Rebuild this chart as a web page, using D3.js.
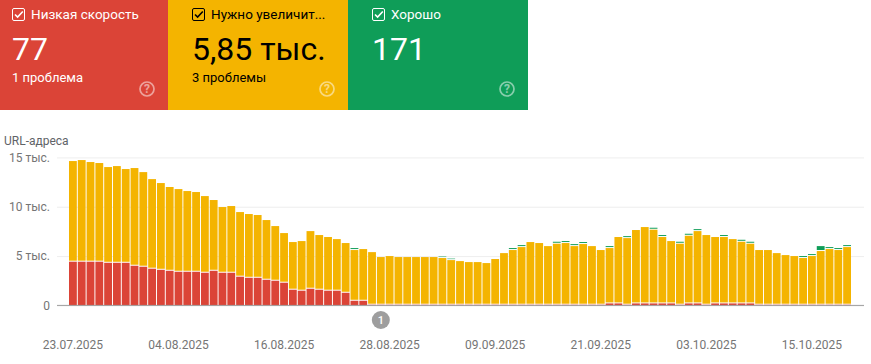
<!DOCTYPE html>
<html>
<head>
<meta charset="utf-8">
<script src="https://cdn.jsdelivr.net/npm/d3@7"></script>
<style>
html, body { margin: 0; padding: 0; background: #fff; }
svg { display: block; font-family: Roboto, sans-serif; }
</style>
</head>
<body>
<script>
let width = 871;
let height = 364;

// cards on top
let cardTitles = ["Низкая скорость", "Нужно увеличит...", "Хорошо"];
let cardValues = ["77", "5,85 тыс.", "171"];
let cardNotes = ["1 проблема", "3 проблемы", ""];
let cardColors = ["#db4437", "#f4b400", "#0f9d58"];
let cardInk = ["#fff", "#000", "#fff"];

// URLs per day, from 23.07.2025
let poor = [4430, 4430, 4430, 4430, 4320, 4320, 4320, 4020, 3920, 3720, 3610, 3510, 3410, 3410, 3410, 3310, 3510, 3310, 3310, 2910, 2800, 2800, 2600, 2500, 2300, 1590, 1490, 1690, 1590, 1490, 1490, 1280, 470, 470, 70, 70, 70, 70, 70, 70, 70, 70, 70, 70, 70, 70, 70, 70, 70, 70, 70, 70, 70, 70, 70, 70, 70, 70, 70, 70, 70, 200, 200, 70, 200, 200, 200, 200, 200, 70, 200, 200, 70, 200, 200, 200, 200, 200, 70, 70, 70, 70, 70, 70, 70, 70, 70, 70, 70];
let needsWork = [10200, 10300, 10100, 10000, 9700, 9800, 9500, 9900, 9590, 9080, 8790, 8490, 8380, 8180, 8080, 7770, 7170, 6660, 6760, 6550, 6460, 6360, 6050, 5540, 5030, 4830, 5030, 5840, 5540, 5440, 5230, 5040, 5140, 5240, 5330, 4830, 4930, 4830, 4830, 4830, 4830, 4830, 4730, 4520, 4420, 4320, 4320, 4220, 4630, 5230, 5540, 5840, 6350, 6250, 5940, 6180, 6250, 5940, 6150, 5940, 5540, 5610, 6730, 6750, 7440, 7740, 7470, 6730, 6320, 6180, 6860, 7330, 7060, 6730, 6730, 6520, 6250, 6050, 5540, 5540, 5230, 5030, 4930, 4730, 4930, 5440, 5640, 5540, 5840];
let good = [0, 0, 0, 0, 0, 0, 0, 0, 0, 0, 0, 0, 0, 0, 0, 0, 0, 0, 0, 0, 0, 0, 0, 0, 0, 0, 0, 0, 0, 0, 0, 0, 200, 0, 0, 0, 0, 0, 0, 0, 0, 0, 150, 150, 0, 0, 0, 0, 0, 0, 200, 200, 0, 0, 0, 200, 200, 200, 200, 0, 0, 200, 0, 200, 0, 0, 200, 200, 0, 200, 200, 200, 0, 0, 200, 0, 200, 200, 0, 0, 0, 0, 0, 200, 200, 500, 200, 200, 200];

let yTicks = [0, 5000, 10000, 15000];
let yTickLabels = ["0", "5 тыс.", "10 тыс.", "15 тыс."];
let annotationDate = "27.08.2025";

let svg = d3.select("body").append("svg").attr("width", width).attr("height", height);

let fmt = d3.timeFormat("%d.%m.%Y");
let start = new Date(2025, 6, 23);
let days = poor.map(function(d, i){ return fmt(d3.timeDay.offset(start, i)); });

let xScale = d3.scaleBand().domain(days).range([69, 851]).paddingInner(0.11).paddingOuter(0);
let yScale = d3.scaleLinear().domain([0, 15000]).range([305.4, 157.4]);

// cards
let cardX = d3.scaleOrdinal().domain([0, 1, 2]).range([0, 168, 348]);
let cardW = d3.scaleOrdinal().domain([0, 1, 2]).range([168, 180, 180]);
let cardPad = d3.scaleOrdinal().domain([0, 1, 2]).range([12, 24, 24]);

let cards = svg.selectAll("g.card").data(cardTitles).enter().append("g")
    .attr("class", "card")
    .attr("transform", function(d, i){ return "translate(" + cardX(i) + ",0)"; });

cards.append("rect").attr("width", function(d, i){ return cardW(i); }).attr("height", 110)
    .attr("fill", function(d, i){ return cardColors[i]; });

cards.append("rect")
    .attr("x", function(d, i){ return cardPad(i) + 0.5; }).attr("y", 8.5)
    .attr("width", 12).attr("height", 12).attr("rx", 1.5)
    .attr("fill", "none").attr("stroke-width", 1)
    .attr("stroke", function(d, i){ return cardInk[i]; });

cards.append("path")
    .attr("d", function(d, i){ let x = cardPad(i); return "M" + (x + 3) + ",14.5l2.6,2.6l5.2,-5.6"; })
    .attr("fill", "none").attr("stroke-width", 1.6)
    .attr("stroke", function(d, i){ return cardInk[i]; });

cards.append("text")
    .attr("x", function(d, i){ return cardPad(i) + 19; }).attr("y", 19)
    .attr("font-size", 13.5)
    .attr("fill", function(d, i){ return cardInk[i]; })
    .text(function(d){ return d; });

cards.append("text")
    .attr("x", function(d, i){ return cardPad(i); }).attr("y", 60)
    .attr("font-size", 32)
    .attr("fill", function(d, i){ return cardInk[i]; })
    .text(function(d, i){ return cardValues[i]; });

cards.append("text")
    .attr("x", function(d, i){ return cardPad(i); }).attr("y", 82)
    .attr("font-size", 13)
    .attr("fill", function(d, i){ return cardInk[i]; })
    .text(function(d, i){ return cardNotes[i]; });

// help icons
let help = cards.append("g")
    .attr("transform", function(d, i){ return "translate(" + (cardW(i) - 21) + ",89)"; })
    .attr("opacity", 0.5);
help.append("circle").attr("r", 7).attr("fill", "none").attr("stroke", "#fff").attr("stroke-width", 1.7);
help.append("text").attr("text-anchor", "middle").attr("y", 4).attr("font-size", 12)
    .attr("font-weight", 700).attr("fill", "#fff").text("?");

// chart
svg.append("text").attr("x", 4).attr("y", 145).attr("font-size", 12).attr("fill", "#5f6368").text("URL-адреса");

let yAxis = d3.axisLeft(yScale).tickValues(yTicks)
    .tickSize(-807).tickPadding(7)
    .tickFormat(function(d, i){ return yTickLabels[i]; });

let yGroup = svg.append("g").attr("transform", "translate(57,0)").call(yAxis);
yGroup.select(".domain").remove();
yGroup.selectAll("line").attr("stroke", "#eeeeee");
yGroup.selectAll("text").attr("font-size", 12).attr("font-family", "Roboto").attr("fill", "#757575");

let layers = [
    {values: poor, base: function(i){ return 0; }, color: cardColors[0], gap: 0},
    {values: needsWork, base: function(i){ return poor[i]; }, color: cardColors[1], gap: 1},
    {values: good, base: function(i){ return poor[i] + needsWork[i]; }, color: cardColors[2], gap: 1}
];

layers.forEach(function(layer){
    let rows = layer.values.map(function(v, i){ return {v: v, i: i}; }).filter(function(d){ return d.v > 0; });
    svg.append("g").selectAll("rect").data(rows).enter().append("rect")
        .attr("x", function(d){ return xScale(days[d.i]); })
        .attr("width", xScale.bandwidth())
        .attr("y", function(d){ return yScale(layer.base(d.i) + d.v); })
        .attr("height", function(d){ return Math.max(0, yScale(layer.base(d.i)) - yScale(layer.base(d.i) + d.v) - layer.gap); })
        .attr("fill", layer.color);
});

// baseline
svg.append("line").attr("x1", 57).attr("x2", 864).attr("y1", yScale(0)).attr("y2", yScale(0))
    .attr("stroke", "#9e9e9e").attr("stroke-width", 1);

// date labels
let xAxis = d3.axisBottom(xScale)
    .tickValues(days.filter(function(d, i){ return i % 12 == 0; }))
    .tickSize(0).tickPadding(0);
let xGroup = svg.append("g").attr("transform", "translate(0,340)").call(xAxis);
xGroup.select(".domain").remove();
xGroup.selectAll("text").attr("font-size", 12).attr("font-family", "Roboto").attr("fill", "#757575");

// annotation
let note = svg.append("g")
    .attr("transform", "translate(" + (xScale(annotationDate) + xScale.bandwidth() / 2) + ",320)");
note.append("circle").attr("r", 9).attr("fill", "#9e9e9e");
note.append("text").attr("text-anchor", "middle").attr("y", 4).attr("font-size", 11)
    .attr("font-weight", 500).attr("fill", "#fff").text("1");
</script>
</body>
</html>
